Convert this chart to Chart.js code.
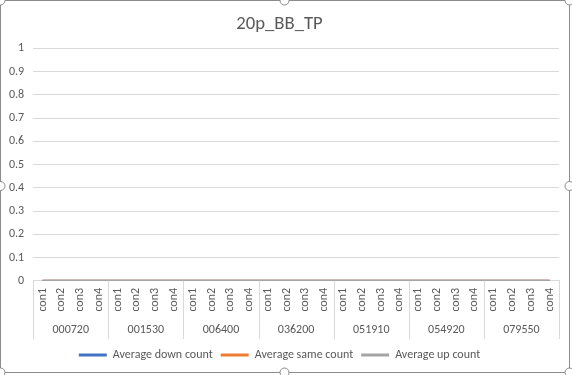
<!DOCTYPE html>
<html>
<head>
<meta charset="utf-8">
<script src="https://cdn.jsdelivr.net/npm/chart.js@4"></script>
<style>
    html, body { margin: 0; padding: 0; background: #fff; }
    #wrap { width: 572px; height: 375px; position: relative; }
</style>
</head>
<body>
<div id="wrap"><canvas id="myChart" width="572" height="375"></canvas></div>
<script>
const title = '20p_BB_TP';
const groups = ['000720', '001530', '006400', '036200', '051910', '054920', '079550'];
const conds = ['con1', 'con2', 'con3', 'con4'];
const categories = [
    'con1', 'con2', 'con3', 'con4', 'con1', 'con2', 'con3', 'con4',
    'con1', 'con2', 'con3', 'con4', 'con1', 'con2', 'con3', 'con4',
    'con1', 'con2', 'con3', 'con4', 'con1', 'con2', 'con3', 'con4',
    'con1', 'con2', 'con3', 'con4'
];
const downCount = [0, 0, 0, 0, 0, 0, 0, 0, 0, 0, 0, 0, 0, 0, 0, 0, 0, 0, 0, 0, 0, 0, 0, 0, 0, 0, 0, 0];
const sameCount = [0, 0, 0, 0, 0, 0, 0, 0, 0, 0, 0, 0, 0, 0, 0, 0, 0, 0, 0, 0, 0, 0, 0, 0, 0, 0, 0, 0];
const upCount = [0, 0, 0, 0, 0, 0, 0, 0, 0, 0, 0, 0, 0, 0, 0, 0, 0, 0, 0, 0, 0, 0, 0, 0, 0, 0, 0, 0];
const seriesNames = ['Average down count', 'Average same count', 'Average up count'];
const yTicks = [0, 0.1, 0.2, 0.3, 0.4, 0.5, 0.6, 0.7, 0.8, 0.9, 1];

const fontName = "Carlito, Calibri, 'Liberation Sans', sans-serif";
const textColor = '#595959';
const gridColor = '#d9d9d9';

// group separators under the axis, like excel multi-level labels
const groupLines = {
    id: 'groupLines',
    afterDraw(chart) {
        const x = chart.scales.x;
        const x2 = chart.scales.x2;
        const step = x.getPixelForValue(1) - x.getPixelForValue(0);
        const ctx = chart.ctx;
        ctx.save();
        ctx.strokeStyle = gridColor;
        ctx.lineWidth = 1;
        for (let g = 0; g <= groups.length; g++) {
            const px = Math.round(x.getPixelForValue(g * conds.length) - step / 2) + 0.5;
            ctx.beginPath();
            ctx.moveTo(px, x.top);
            ctx.lineTo(px, x2.bottom - 2);
            ctx.stroke();
        }
        ctx.restore();
    }
};

// excel selection frame
const frame = {
    id: 'frame',
    beforeDraw(chart) {
        const ctx = chart.ctx;
        ctx.save();
        ctx.fillStyle = '#fff';
        ctx.fillRect(0, 0, chart.width, chart.height);
        ctx.restore();
    },
    afterDraw(chart) {
        const ctx = chart.ctx;
        const w = 569, h = 372;
        ctx.save();
        ctx.strokeStyle = '#8c8c8c';
        ctx.lineWidth = 1;
        ctx.strokeRect(0.5, 0.5, w, h);
        const pts = [[0.5, 0.5], [w / 2, 0.5], [w + 0.5, 0.5], [0.5, h / 2], [w + 0.5, h / 2],
            [0.5, h + 0.5], [w / 2, h + 0.5], [w + 0.5, h + 0.5]];
        pts.forEach(p => {
            ctx.beginPath();
            ctx.arc(p[0], p[1], 4.5, 0, Math.PI * 2);
            ctx.fillStyle = '#fff';
            ctx.fill();
            ctx.stroke();
        });
        ctx.restore();
    }
};

const colors = ['#4472c4', '#ed7d31', '#a5a5a5'];
const values = [downCount, sameCount, upCount];

const data = {
    labels: categories,
    datasets: seriesNames.map((name, i) => ({
        label: name,
        data: values[i],
        borderColor: colors[i],
        backgroundColor: colors[i],
        borderWidth: 2.5,
        pointRadius: 0,
        order: seriesNames.length - i
    }))
};

const config = {
    type: 'line',
    data: data,
    options: {
        responsive: false,
        animation: false,
        layout: { padding: { left: 0, right: 13, top: 0, bottom: 4 } },
        plugins: {
            title: {
                display: true,
                text: title,
                color: textColor,
                font: { family: fontName, size: 18.7, weight: 'normal' },
                padding: { top: 13, bottom: 13 }
            },
            legend: {
                position: 'bottom',
                labels: {
                    color: textColor,
                    font: { family: fontName, size: 12 },
                    boxWidth: 28,
                    boxHeight: 3,
                    padding: 8,
                    generateLabels(chart) {
                        const items = Chart.defaults.plugins.legend.labels.generateLabels(chart);
                        items.forEach(it => { it.lineWidth = 0; });
                        return items;
                    },
                    sort: (a, b) => a.datasetIndex - b.datasetIndex
                }
            },
            tooltip: { enabled: false }
        },
        scales: {
            y: {
                min: 0,
                max: 1,
                afterBuildTicks(scale) {
                    scale.ticks = yTicks.map(v => ({ value: v }));
                },
                ticks: {
                    color: textColor,
                    font: { family: fontName, size: 12 },
                    padding: 9,
                    callback: v => String(v)
                },
                grid: { color: gridColor, drawTicks: false },
                border: { display: false }
            },
            x: {
                type: 'category',
                offset: true,
                ticks: {
                    color: textColor,
                    font: { family: fontName, size: 12 },
                    minRotation: 90,
                    maxRotation: 90,
                    autoSkip: false,
                    padding: 7
                },
                grid: { display: false, drawTicks: false },
                border: { display: true, color: gridColor }
            },
            x2: {
                type: 'category',
                labels: groups,
                position: 'bottom',
                offset: true,
                ticks: {
                    color: textColor,
                    font: { family: fontName, size: 12 },
                    maxRotation: 0,
                    padding: 4
                },
                grid: { display: false, drawTicks: false },
                border: { display: false }
            }
        }
    },
    plugins: [frame, groupLines]
};

const myChart = new Chart(document.getElementById('myChart'), config);
</script>
</body>
</html>
